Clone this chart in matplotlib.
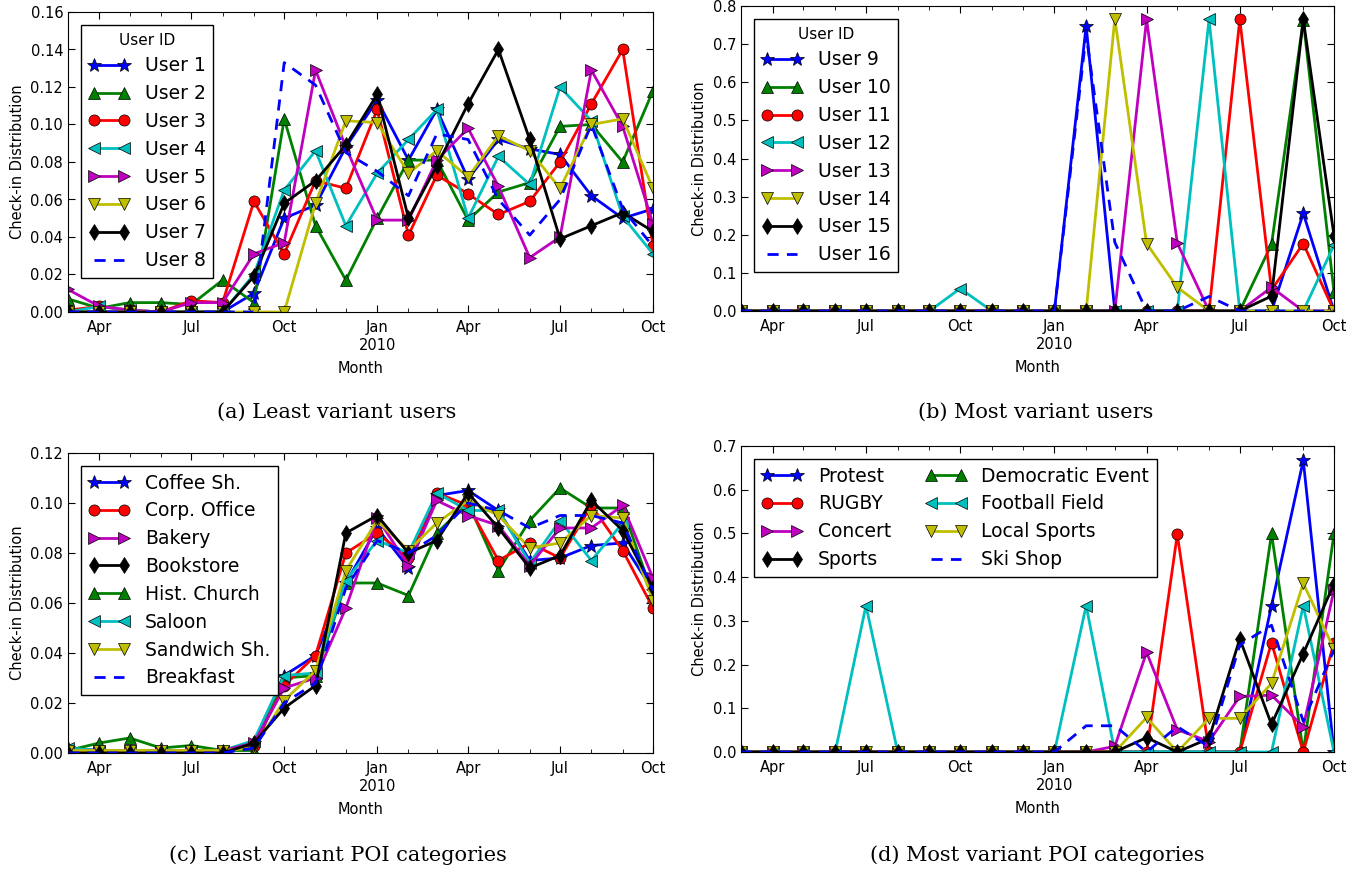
import matplotlib
matplotlib.use("Agg")
import matplotlib.pyplot as plt
import matplotlib.dates as mdates
from matplotlib.ticker import FuncFormatter
import pandas as pd

months = pd.date_range("2009-03-01", "2010-10-01", freq="MS")

# (a) least variant users
least_users = ["User 1", "User 2", "User 3", "User 4", "User 5", "User 6", "User 7", "User 8"]
user1 = [0, 0, 0, 0, 0, 0, 0.010, 0.050, 0.057, 0.088, 0.113, 0.081, 0.108, 0.071, 0.092, 0.087, 0.084, 0.062, 0.050, 0.055]
user2 = [0.007, 0.002, 0.005, 0.005, 0.004, 0.017, 0.005, 0.103, 0.046, 0.017, 0.050, 0.081, 0.081, 0.049, 0.064, 0.069, 0.099, 0.100, 0.080, 0.118]
user3 = [0.001, 0.003, 0.001, 0.000, 0.006, 0.005, 0.059, 0.031, 0.070, 0.066, 0.108, 0.041, 0.073, 0.063, 0.052, 0.059, 0.080, 0.111, 0.140, 0.035]
user4 = [0.000, 0.003, 0.001, 0.000, 0.000, 0.000, 0.020, 0.065, 0.086, 0.046, 0.074, 0.092, 0.108, 0.050, 0.083, 0.068, 0.120, 0.102, 0.051, 0.031]
user5 = [0.012, 0.003, 0.001, 0.000, 0.005, 0.005, 0.031, 0.037, 0.129, 0.088, 0.049, 0.049, 0.081, 0.098, 0.067, 0.029, 0.040, 0.129, 0.099, 0.047]
user6 = [0, 0, 0, 0, 0, 0, 0, 0, 0.058, 0.102, 0.101, 0.074, 0.086, 0.072, 0.094, 0.086, 0.066, 0.100, 0.103, 0.066]
user7 = [0, 0, 0, 0, 0, 0, 0.019, 0.058, 0.070, 0.089, 0.116, 0.050, 0.078, 0.111, 0.140, 0.092, 0.039, 0.046, 0.053, 0.043]
user8 = [0, 0, 0, 0, 0, 0, 0, 0.133, 0.121, 0.085, 0.075, 0.062, 0.095, 0.092, 0.060, 0.041, 0.060, 0.100, 0.055, 0.035]

# (b) most variant users
most_users = ["User 9", "User 10", "User 11", "User 12", "User 13", "User 14", "User 15", "User 16"]
user9 = [0, 0, 0, 0, 0, 0, 0, 0, 0, 0, 0, 0.748, 0, 0, 0, 0, 0, 0, 0.256, 0]
user10 = [0, 0, 0, 0, 0, 0, 0, 0, 0, 0, 0, 0, 0, 0, 0, 0, 0, 0.175, 0.762, 0.050]
user11 = [0, 0, 0, 0, 0, 0, 0, 0, 0, 0, 0, 0, 0, 0, 0, 0, 0.765, 0.055, 0.177, 0]
user12 = [0, 0, 0, 0, 0, 0, 0, 0.059, 0, 0, 0, 0, 0, 0, 0, 0.765, 0, 0, 0, 0.173]
user13 = [0, 0, 0, 0, 0, 0, 0, 0, 0, 0, 0, 0, 0, 0.765, 0.178, 0, 0, 0.062, 0, 0]
user14 = [0, 0, 0, 0, 0, 0, 0, 0, 0, 0, 0, 0, 0.767, 0.177, 0.062, 0, 0, 0, 0, 0]
user15 = [0, 0, 0, 0, 0, 0, 0, 0, 0, 0, 0, 0, 0, 0, 0, 0, 0, 0.039, 0.765, 0.198]
user16 = [0, 0, 0, 0, 0, 0, 0, 0, 0, 0, 0, 0.725, 0.180, 0, 0, 0.038, 0, 0, 0, 0]

# (c) least variant POI categories
least_cats = ["Coffee Sh.", "Hist. Church", "Corp. Office", "Saloon", "Bakery", "Sandwich Sh.", "Bookstore", "Breakfast"]
coffee = [0.002, 0.001, 0.001, 0.001, 0.001, 0.001, 0.004, 0.031, 0.039, 0.068, 0.090, 0.074, 0.103, 0.105, 0.097, 0.077, 0.078, 0.083, 0.084, 0.065]
church = [0.001, 0.004, 0.006, 0.002, 0.003, 0.001, 0.001, 0.030, 0.031, 0.068, 0.068, 0.063, 0.088, 0.100, 0.073, 0.093, 0.106, 0.098, 0.098, 0.063]
corp_office = [0.001, 0.001, 0.001, 0.001, 0.001, 0.001, 0.003, 0.027, 0.039, 0.080, 0.088, 0.078, 0.104, 0.099, 0.077, 0.084, 0.078, 0.099, 0.081, 0.058]
saloon = [0.002, 0.001, 0.001, 0.001, 0.001, 0.001, 0.005, 0.031, 0.032, 0.069, 0.085, 0.080, 0.104, 0.097, 0.097, 0.076, 0.093, 0.077, 0.092, 0.062]
bakery = [0.001, 0.001, 0.001, 0.001, 0.001, 0.001, 0.004, 0.026, 0.030, 0.058, 0.094, 0.075, 0.101, 0.095, 0.091, 0.075, 0.090, 0.090, 0.099, 0.070]
sandwich = [0.001, 0.001, 0.001, 0.001, 0.001, 0.001, 0.002, 0.021, 0.033, 0.073, 0.093, 0.081, 0.092, 0.101, 0.095, 0.082, 0.084, 0.095, 0.094, 0.061]
bookstore = [0, 0, 0, 0, 0, 0, 0.004, 0.018, 0.027, 0.088, 0.095, 0.080, 0.085, 0.104, 0.090, 0.074, 0.079, 0.101, 0.089, 0.066]
breakfast = [0, 0, 0, 0, 0, 0, 0.002, 0.020, 0.028, 0.066, 0.085, 0.080, 0.087, 0.100, 0.097, 0.090, 0.095, 0.095, 0.092, 0.065]

# (d) most variant POI categories
most_cats = ["Protest", "Democratic Event", "RUGBY", "Football Field", "Concert", "Local Sports", "Sports", "Ski Shop"]
protest = [0, 0, 0, 0, 0, 0, 0, 0, 0, 0, 0, 0, 0, 0, 0, 0, 0, 0.335, 0.667, 0]
democratic = [0, 0, 0, 0, 0, 0, 0, 0, 0, 0, 0, 0, 0, 0, 0, 0, 0, 0.500, 0, 0.500]
rugby = [0, 0, 0, 0, 0, 0, 0, 0, 0, 0, 0, 0, 0, 0, 0.498, 0, 0, 0.250, 0, 0.250]
football = [0, 0, 0, 0, 0.335, 0, 0, 0, 0, 0, 0, 0.335, 0, 0, 0, 0, 0, 0, 0.335, 0]
concert = [0, 0, 0, 0, 0, 0, 0, 0, 0, 0, 0, 0, 0.013, 0.228, 0.051, 0.024, 0.127, 0.130, 0.058, 0.370]
local_sports = [0, 0, 0, 0, 0, 0, 0, 0, 0, 0, 0, 0, 0, 0.079, 0, 0.077, 0.077, 0.157, 0.386, 0.235]
sports = [0, 0, 0, 0, 0, 0, 0, 0, 0, 0, 0, 0, 0, 0.033, 0, 0.031, 0.259, 0.063, 0.225, 0.385]
ski_shop = [0, 0, 0, 0, 0, 0, 0, 0, 0, 0, 0, 0.060, 0.060, 0, 0.058, 0.012, 0.245, 0.290, 0.070, 0.234]

# colour / marker per series slot, old matplotlib look
STYLES = [("b", "*"), ("g", "^"), ("r", "o"), ("c", "<"), ("m", ">"), ("y", "v"), ("k", "d"), ("b", None)]

FIG_W, FIG_H = 1367, 871


def month_label(x, pos):
    d = mdates.num2date(x)
    if d.month == 1:
        return d.strftime("%b") + "\n" + str(d.year)
    return d.strftime("%b")


def box(left, top, right, bottom):
    """pixel box -> figure fraction rect"""
    return [left / FIG_W, 1 - bottom / FIG_H, (right - left) / FIG_W, (bottom - top) / FIG_H]


def draw_panel(ax, series, labels, ymax, yticks, legend_order, title=None, ncol=1):
    lines = []
    for values, label, (color, marker) in zip(series, labels, STYLES):
        if marker is None:
            ln, = ax.plot(months, values, "--", color=color, lw=2, label=label, dashes=(4, 3))
        else:
            ms = 10 if marker == "*" else 8
            ln, = ax.plot(months, values, "-", color=color, lw=2, marker=marker, ms=ms,
                          mec="k", mew=0.5, label=label)
        lines.append(ln)

    ax.set_xlim(months[0], months[-1])
    ax.set_ylim(0, ymax)
    ax.set_yticks(yticks)
    ax.xaxis.set_major_locator(mdates.MonthLocator(bymonth=[1, 4, 7, 10]))
    ax.xaxis.set_minor_locator(mdates.MonthLocator())
    ax.xaxis.set_major_formatter(FuncFormatter(month_label))
    ax.tick_params(which="both", direction="in", top=True, right=True, labelsize=10.5, colors="k")
    ax.tick_params(which="major", length=5)
    ax.tick_params(which="minor", length=3)
    ax.tick_params(axis="x", pad=6)
    ax.set_xlabel("Month", fontsize=10.5, labelpad=6)
    ax.set_ylabel("Check-in Distribution", fontsize=10.5)

    handles = [lines[i] for i in legend_order]
    leg = ax.legend(handles=handles, loc="upper left", ncol=ncol, fontsize=13.5, title=title,
                    title_fontsize=11, numpoints=2, handlelength=2.2, fancybox=False,
                    framealpha=1, edgecolor="k", borderaxespad=0.7, columnspacing=1.8,
                    labelspacing=0.47)
    leg.get_frame().set_linewidth(1)


def main():
    plt.rcParams["font.family"] = "DejaVu Sans"
    fig = plt.figure(figsize=(FIG_W / 100, FIG_H / 100), dpi=100, facecolor="white")

    ax_a = fig.add_axes(box(68, 12, 653, 312))
    draw_panel(ax_a, [user1, user2, user3, user4, user5, user6, user7, user8], least_users,
               0.16, [0, 0.02, 0.04, 0.06, 0.08, 0.10, 0.12, 0.14, 0.16],
               list(range(8)), title="User ID")

    ax_b = fig.add_axes(box(741, 6, 1334, 311))
    draw_panel(ax_b, [user9, user10, user11, user12, user13, user14, user15, user16], most_users,
               0.8, [0, 0.1, 0.2, 0.3, 0.4, 0.5, 0.6, 0.7, 0.8],
               list(range(8)), title="User ID")

    ax_c = fig.add_axes(box(68, 453, 653, 753))
    draw_panel(ax_c, [coffee, church, corp_office, saloon, bakery, sandwich, bookstore, breakfast], least_cats,
               0.12, [0, 0.02, 0.04, 0.06, 0.08, 0.10, 0.12],
               [0, 2, 4, 6, 1, 3, 5, 7])

    ax_d = fig.add_axes(box(741, 446, 1334, 752))
    draw_panel(ax_d, [protest, democratic, rugby, football, concert, local_sports, sports, ski_shop], most_cats,
               0.7, [0, 0.1, 0.2, 0.3, 0.4, 0.5, 0.6, 0.7],
               [0, 2, 4, 6, 1, 3, 5, 7], ncol=2)

    captions = [
        (337, 412, "(a) Least variant users"),
        (1036, 412, "(b) Most variant users"),
        (338, 855, "(c) Least variant POI categories"),
        (1037, 855, "(d) Most variant POI categories"),
    ]
    for x, y, text in captions:
        fig.text(x / FIG_W, 1 - y / FIG_H, text, ha="center", va="center",
                 fontsize=15, family="DejaVu Serif")

    fig.savefig("out.png", dpi=100, facecolor="white")


if __name__ == "__main__":
    main()
